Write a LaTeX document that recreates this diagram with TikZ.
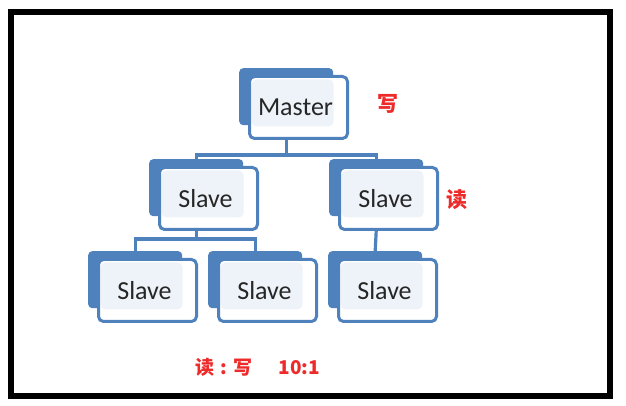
\documentclass[tikz,border=0pt]{standalone}
\usepackage{fontspec}
\setmainfont{Carlito}
\newfontfamily\cjk{Noto Sans CJK SC}
\usepackage{tikz}
\usetikzlibrary{positioning}
\definecolor{boxblue}{HTML}{4F81BD}
\definecolor{paleblue}{HTML}{EEF2F9}
\definecolor{mark}{HTML}{EE2B2B}

\begin{document}
\begin{tikzpicture}[
  x=1pt, y=1pt,
  bck/.style={rectangle, rounded corners=4pt, fill=boxblue,
              minimum width=94pt, minimum height=57pt, anchor=north west},
  frt/.style={rectangle, rounded corners=5pt, draw=boxblue, line width=3pt,
              fill=white, minimum width=98pt, minimum height=62pt,
              text=black!85, font=\fontsize{26}{30}\selectfont,
              execute at end node={\hspace{6pt}},
              path picture={\fill[paleblue]
                ([shift={(2pt,-3pt)}]path picture bounding box.north west)
                rectangle
                ([shift={(-14pt,12pt)}]path picture bounding box.south east);}},
  con/.style={draw=boxblue, line width=3.2pt},
  lbl/.style={text=mark, font=\cjk\bfseries\fontsize{21}{24}\selectfont}
]
\useasboundingbox (0,0) rectangle (626,406);
% --- outer frame ---
\draw[line width=6pt] (11,10) rectangle (610,394);

% --- back plates (at coordinates) ---
\node[bck] at (239,338) (masterbk) {};
\node[bck] at (149,247) (slaveAbk) {};
\node[bck] at (329,247) (slaveBbk) {};
\node[bck] at (88,155)  (slaveAAbk) {};
\node[bck] at (208,155) (slaveABbk) {};
\node[bck] at (328,155) (slaveBAbk) {};

% --- front boxes, offset from their plates ---
\node[frt, below right=7pt and 9pt of masterbk.north west, anchor=north west] (master) {Master};
\node[frt, below right=7pt and 9pt of slaveAbk.north west, anchor=north west] (slaveA) {Slave};
\node[frt, below right=7pt and 9pt of slaveBbk.north west, anchor=north west] (slaveB) {Slave};
\node[frt, below right=7pt and 9pt of slaveAAbk.north west, anchor=north west] (slaveAA) {Slave};
\node[frt, below right=7pt and 9pt of slaveABbk.north west, anchor=north west] (slaveAB) {Slave};
\node[frt, below right=7pt and 9pt of slaveBAbk.north west, anchor=north west] (slaveBA) {Slave};

% --- connectors ---
\draw[con] (master.south -| masterbk.center) -- ++(0,-15) coordinate (bus1)
  -| (slaveAbk.north);
\draw[con] (bus1) -| (slaveBbk.north);
\draw[con] (slaveA.south -| slaveAbk.center) -- ++(0,-8) coordinate (bus2)
  -| (slaveAAbk.north);
\draw[con] (bus2) -| (slaveABbk.north);
\draw[con] (slaveB.south -| slaveBbk.center) -- (slaveBAbk.north);

% --- red notes ---
\node[lbl] at (388,302) (write) {写};
\node[lbl] at (457,206) (read) {读};
\node[lbl, font=\cjk\bfseries\fontsize{19}{22}\selectfont] at (258,39) (ratio)
  {读\hspace{6pt}:\hspace{6pt}写\hspace{26pt}10:1};
\end{tikzpicture}
\end{document}
